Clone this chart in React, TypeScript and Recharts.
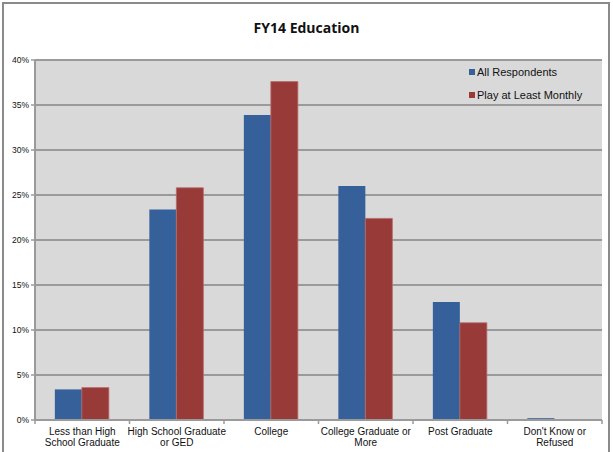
import { BarChart, Bar, XAxis, YAxis, CartesianGrid } from 'recharts'

const categories = [
  'Less than High|School Graduate',
  'High School Graduate|or GED',
  'College',
  'College Graduate or|More',
  'Post Graduate',
  "Don't Know or|Refused",
]
const allRespondents = [3.4, 23.4, 33.9, 26.0, 13.1, 0.2]
const playMonthly = [3.6, 25.8, 37.6, 22.4, 10.8, 0]
const yTicks = [0, 5, 10, 15, 20, 25, 30, 35, 40]

const BLUE = '#36609a'
const RED = '#973a38'
const GRID = '#9a9a9a'
const FONT = '"Liberation Sans", Arial, sans-serif'

const data = categories.map((c, i) => ({
  name: c,
  all: allRespondents[i],
  play: playMonthly[i],
}))

function CategoryTick(props: any) {
  const { x, y, payload, index } = props
  const half = payload.offset ?? 0
  const lines = String(payload.value).split('|')
  return (
    <g>
      <line x1={x - half} y1={y - 8} x2={x - half} y2={y - 4} stroke={GRID} strokeWidth={1.5} />
      {index === categories.length - 1 && (
        <line x1={x + half} y1={y - 8} x2={x + half} y2={y - 4} stroke={GRID} strokeWidth={1.5} />
      )}
      {lines.map((l, i) => (
        <text key={i} x={x} y={y + 7 + i * 11} textAnchor="middle" fontSize={10} fill="#111" fontFamily={FONT}>
          {l}
        </text>
      ))}
    </g>
  )
}

export default function App() {
  return (
    <div style={{ position: 'absolute', left: 0, top: 0, width: 613, height: 452, background: '#fff', overflow: 'hidden' }}>
      <div
        style={{
          position: 'absolute',
          left: 2,
          top: 2,
          width: 604,
          height: 460,
          border: '2px solid #8a8a8a',
        }}
      />
      <div
        style={{
          position: 'absolute',
          top: 18,
          width: 613,
          textAlign: 'center',
          fontFamily: '"Open Sans", sans-serif',
          fontWeight: 700,
          fontSize: 14,
          color: '#111',
        }}
      >
        FY14 Education
      </div>
      <div style={{ position: 'absolute', left: 0, top: 0 }}>
        <BarChart
          width={613}
          height={452}
          data={data}
          margin={{ top: 60, right: 11, bottom: 0, left: 0 }}
          barCategoryGap="21%"
          barGap={0}
        >
          <CartesianGrid
            vertical={false}
            horizontal
            stroke={GRID}
            strokeWidth={2}
            fill="#d9d9d9"
            fillOpacity={1}
          />
          <XAxis
            dataKey="name"
            height={32}
            interval={0}
            tickLine={false}
            axisLine={{ stroke: GRID, strokeWidth: 2 }}
            tick={<CategoryTick />}
          />
          <YAxis
            width={35}
            domain={[0, 40]}
            ticks={yTicks}
            interval={0}
            tickFormatter={(v) => `${v}%`}
            tickSize={4}
            tickLine={{ stroke: GRID, strokeWidth: 1.5 }}
            axisLine={{ stroke: GRID, strokeWidth: 2 }}
            tick={{ fontSize: 8.5, fill: '#111', fontFamily: FONT }}
          />
          <Bar dataKey="all" fill={BLUE} isAnimationActive={false} />
          <Bar dataKey="play" fill={RED} stroke="#b86a68" strokeWidth={0.8} isAnimationActive={false} />
        </BarChart>
      </div>
      <div
        style={{
          position: 'absolute',
          left: 463,
          top: 61,
          width: 138,
          height: 44,
          fontFamily: FONT,
          fontSize: 11,
          color: '#111',
        }}
      >
        {[
          { label: 'All Respondents', color: BLUE },
          { label: 'Play at Least Monthly', color: RED },
        ].map((item, i) => (
          <div key={item.label} style={{ position: 'absolute', left: 6, top: 5 + i * 23, display: 'flex', alignItems: 'center', whiteSpace: 'nowrap' }}>
            <span style={{ display: 'inline-block', width: 6, height: 6, background: item.color, marginRight: 2 }} />
            <span>{item.label}</span>
          </div>
        ))}
      </div>
    </div>
  )
}
